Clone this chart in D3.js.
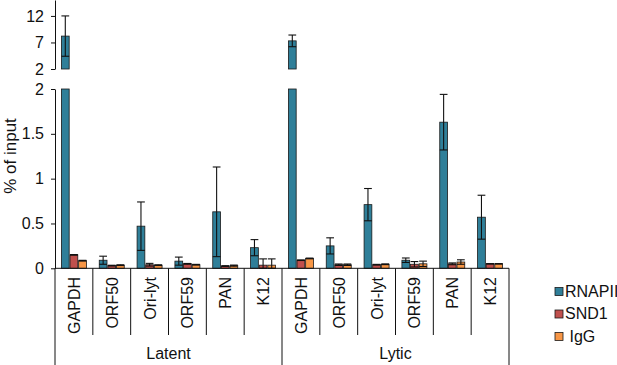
<!DOCTYPE html>
<html><head><meta charset="utf-8">
<script src="https://cdn.jsdelivr.net/npm/d3@7/dist/d3.min.js"></script>
<style>
body{margin:0;background:#fff;}
svg{display:block;font-family:"Liberation Sans",Arial,sans-serif;}
</style></head>
<body><svg id="c" width="617" height="365"></svg>
<script>
const groups = ["Latent", "Lytic"];
const genes = ["GAPDH", "ORF50", "Ori-lyt", "ORF59", "PAN", "K12"];
const seriesNames = ["RNAPII", "SND1", "IgG"];
const legendLabels = ["RNAPII", "SND1", " IgG"];
const colors = ["#2f7f99", "#c0504d", "#f79646"];
const rnapii    = [8.2, 0.09, 0.47, 0.08, 0.63, 0.23,   7.3, 0.25, 0.71, 0.09, 1.63, 0.57];
const rnapiiErr = [3.8, 0.045, 0.27, 0.045, 0.5, 0.09,  1.1, 0.09, 0.18, 0.025, 0.31, 0.245];
const snd1      = [0.15, 0.03, 0.04, 0.05, 0.025, 0.035, 0.09, 0.04, 0.04, 0.045, 0.05, 0.05];
const snd1Err   = [0.003, 0.004, 0.015, 0.004, 0.004, 0.07, 0.003, 0.008, 0.004, 0.03, 0.01, 0.002];
const igg       = [0.085, 0.035, 0.035, 0.04, 0.03, 0.035, 0.11, 0.04, 0.045, 0.05, 0.07, 0.05];
const iggErr    = [0.004, 0.004, 0.004, 0.004, 0.006, 0.07, 0.004, 0.008, 0.004, 0.03, 0.025, 0.002];
const lowTicks = [0, 0.5, 1, 1.5, 2];
const highTicks = [2, 7, 12];

const values = [rnapii, snd1, igg];
const errs = [rnapiiErr, snd1Err, iggErr];
const cats = [];
groups.forEach(g => genes.forEach(n => cats.push(g + "|" + n)));

const svg = d3.select("#c");
const x0 = d3.scaleBand().domain(cats).range([55, 509]);
const bw = x0.bandwidth();
const x1 = d3.scaleBand().domain(seriesNames).range([bw/2 - 12.5, bw/2 + 12.5]).paddingInner(0.1);
const yLow = d3.scaleLinear().domain([0, 2]).range([268.3, 89]);
const yHigh = d3.scaleLinear().domain([2, 15]).range([69, 0]);

// bars
const g = svg.append("g");
cats.forEach((c, i) => {
  seriesNames.forEach((s, k) => {
    const v = values[k][i], e = errs[k][i];
    const bx = x0(c) + x1(s), w = x1.bandwidth();
    const lowTop = yLow(Math.min(v, 2));
    g.append("rect").attr("x", bx).attr("y", lowTop).attr("width", w)
      .attr("height", yLow(0) - lowTop).attr("fill", colors[k])
      .attr("stroke", "#1a1a1a").attr("stroke-width", 0.8);
    let sc = yLow;
    if (v > 2) {
      g.append("rect").attr("x", bx).attr("y", yHigh(v)).attr("width", w)
        .attr("height", yHigh(2) - yHigh(v)).attr("fill", colors[k])
        .attr("stroke", "#1a1a1a").attr("stroke-width", 0.8);
      sc = yHigh;
    }
    const lo = Math.max(v - e, sc === yHigh ? 2 : 0), hi = v + e;
    const cx = bx + w/2;
    const eb = g.append("g").attr("stroke", "#111").attr("stroke-width", 1.1);
    eb.append("line").attr("x1", cx).attr("x2", cx).attr("y1", sc(lo)).attr("y2", sc(hi));
    eb.append("line").attr("x1", bx).attr("x2", bx + w).attr("y1", sc(hi)).attr("y2", sc(hi));
    eb.append("line").attr("x1", bx).attr("x2", bx + w).attr("y1", sc(lo)).attr("y2", sc(lo));
  });
});

// axes
const axLow = svg.append("g").attr("transform", "translate(55,0)")
  .call(d3.axisLeft(yLow).tickValues(lowTicks).tickSize(4).tickPadding(7).tickSizeOuter(0)
    .tickFormat(d => d));
const axHigh = svg.append("g").attr("transform", "translate(55,0)")
  .call(d3.axisLeft(yHigh).tickValues(highTicks).tickSize(4).tickPadding(7).tickSizeOuter(0)
    .tickFormat(d => d));
[axLow, axHigh].forEach(a => {
  a.selectAll("text").attr("font-size", 16).attr("fill", "#111")
    .attr("font-family", '"Liberation Sans",Arial,sans-serif');
  a.selectAll("line").attr("stroke", "#111");
  a.select(".domain").attr("stroke", "#111");
});

// x axis table
const ax = svg.append("g").attr("stroke", "#111").attr("stroke-width", 1);
ax.append("line").attr("x1", 55).attr("x2", 509).attr("y1", yLow(0)).attr("y2", yLow(0));
ax.append("line").attr("x1", 55).attr("x2", 55).attr("y1", yLow(0)).attr("y2", 365);
cats.forEach((c, i) => {
  const xr = x0(c) + bw;
  const isGroupEnd = (i % genes.length) === genes.length - 1;
  ax.append("line").attr("x1", xr).attr("x2", xr).attr("y1", yLow(0))
    .attr("y2", isGroupEnd ? 365 : 335);
});
cats.forEach(c => {
  const cx = x0(c) + bw/2;
  svg.append("text").attr("transform", `translate(${cx + 6},277) rotate(-90)`)
    .attr("text-anchor", "end").attr("font-size", 16).attr("fill", "#111")
    .text(c.split("|")[1]);
});
groups.forEach(gr => {
  const first = x0(gr + "|" + genes[0]), last = x0(gr + "|" + genes[genes.length-1]) + bw;
  svg.append("text").attr("x", (first + last)/2).attr("y", 359)
    .attr("text-anchor", "middle").attr("font-size", 16).attr("fill", "#111").text(gr);
});

// y label
svg.append("text").attr("transform", "translate(16,156) rotate(-90)")
  .attr("text-anchor", "middle").attr("font-size", 17).attr("fill", "#111").text("% of input");

// legend
seriesNames.forEach((s, k) => {
  const ly = 287.5 + k * 22.5;
  svg.append("rect").attr("x", 555).attr("y", ly).attr("width", 8).attr("height", 8)
    .attr("fill", colors[k]).attr("stroke", "#1a1a1a").attr("stroke-width", 0.8);
  svg.append("text").attr("x", 565).attr("y", ly + 9).attr("font-size", 16)
    .attr("fill", "#111").attr("xml:space", "preserve").style("white-space", "pre")
    .text(legendLabels[k]);
});
</script></body></html>
